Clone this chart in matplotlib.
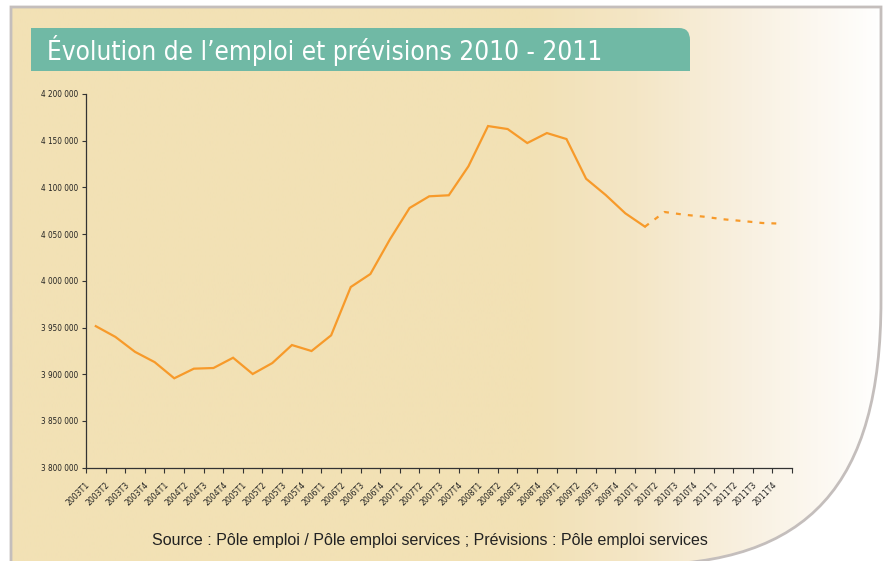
import matplotlib
matplotlib.use("Agg")
import matplotlib.pyplot as plt
import numpy as np
from matplotlib.path import Path
from matplotlib.patches import PathPatch
from matplotlib.colors import LinearSegmentedColormap
import matplotlib.transforms as mtransforms
from matplotlib.ticker import FuncFormatter, FixedLocator

# ---------------- data ----------------
categories = [f"{y}T{q}" for y in range(2003, 2012) for q in range(1, 5)]

realise = [3951500, 3940000, 3924000, 3913000, 3895700, 3906000, 3906700,
           3917700, 3900300, 3912000, 3931300, 3924900, 3941700, 3993400,
           4007300, 4044500, 4078000, 4090500, 4091600, 4122600, 4165700,
           4162500, 4147500, 4158200, 4151800, 4109300, 4091900, 4072300,
           4058000]  # 2003T1 .. 2010T1
prevision = [4058000, 4073700, 4070800, 4068700, 4065900, 4064000,
             4061900, 4061200]  # 2010T1 .. 2011T4

title = "Évolution de l’emploi et prévisions 2010 - 2011"
source = "Source : Pôle emploi / Pôle emploi services ; Prévisions : Pôle emploi services"
yticks = [3800000, 3850000, 3900000, 3950000, 4000000, 4050000, 4100000,
          4150000, 4200000]

# ---------------- figure ----------------
W, H = 887, 561
fig = plt.figure(figsize=(W / 100, H / 100), dpi=100)
fig.patch.set_facecolor("white")

narrow = ["DejaVu Sans"]
regular = ["Liberation Sans", "DejaVu Sans"]

# background axes in pixel coords
bg = fig.add_axes([0, 0, 1, 1])
bg.set_xlim(0, W)
bg.set_ylim(H, 0)
bg.axis("off")

verts = [(11, 620), (11, 7), (881, 7), (881, 300),
         (881, 485), (809, 565), (640, 565), (640, 620), (11, 620), (11, 620)]
codes = [Path.MOVETO, Path.LINETO, Path.LINETO, Path.LINETO,
         Path.CURVE4, Path.CURVE4, Path.CURVE4, Path.LINETO, Path.LINETO,
         Path.CLOSEPOLY]
panel_path = Path(verts, codes)

cmap = LinearSegmentedColormap.from_list(
    "bgrad",
    [(0.0, "#F2E1B5"), (0.60, "#F2E1B5"), (0.72, "#F4E6C6"),
     (0.85, "#F9F1E2"), (1.0, "#FFFFFF")])
grad = np.linspace(0, 1, 512).reshape(1, -1)
im = bg.imshow(grad, extent=[0, W, H, 0], aspect="auto", cmap=cmap,
               interpolation="bilinear", zorder=0)
clip = PathPatch(panel_path, transform=bg.transData, facecolor="none",
                 edgecolor="none")
bg.add_patch(clip)
im.set_clip_path(clip)
bg.add_patch(PathPatch(panel_path, facecolor="none", edgecolor="#C4BEBC",
                       lw=2.0, zorder=1))

# title bar
tv = [(31, 71), (31, 28), (679, 28), (690, 28), (690, 40), (690, 71), (31, 71)]
tc = [Path.MOVETO, Path.LINETO, Path.LINETO, Path.CURVE3, Path.CURVE3,
      Path.LINETO, Path.CLOSEPOLY]
bg.add_patch(PathPatch(Path(tv, tc), facecolor="#70B9A5", edgecolor="none",
                       zorder=2))
bg.text(47, 50, title, color="white", fontsize=18.8, family=narrow,
        stretch="condensed", ha="left", va="center", zorder=3)

bg.text(430, 541, source, color="#222222", fontsize=11.5, family=regular,
        ha="center", va="center", zorder=3)

# ---------------- chart axes ----------------
left, right, top, bottom = 86, 792, 94, 467.7
ax = fig.add_axes([left / W, (H - bottom) / H, (right - left) / W,
                   (bottom - top) / H])
ax.patch.set_alpha(0)

x_all = np.arange(len(categories))
line_color = "#F79A2A"
ax.plot(x_all[:len(realise)], realise, color=line_color, lw=1.6,
        solid_joinstyle="miter")
ax.plot(x_all[len(realise) - 1:len(realise) - 1 + len(prevision)], prevision,
        color=line_color, lw=1.6, dashes=(2.2, 3.2))

ax.set_xlim(-0.5, len(categories) - 0.5)
ax.set_ylim(yticks[0], yticks[-1])

for s in ["top", "right"]:
    ax.spines[s].set_visible(False)
for s in ["left", "bottom"]:
    ax.spines[s].set_color("#333333")
    ax.spines[s].set_linewidth(0.9)

ax.set_yticks(yticks)
ax.yaxis.set_major_formatter(
    FuncFormatter(lambda v, p: f"{int(v):,}".replace(",", " ")))
ax.tick_params(axis="y", length=3, width=0.8, color="#333333", pad=2.5,
               labelsize=5.9, labelcolor="#222222")
for lab in ax.get_yticklabels():
    lab.set_family(narrow)
    lab.set_stretch("condensed")

# x: boundary ticks (minor), labels at centres (major, no tick mark)
ax.xaxis.set_minor_locator(FixedLocator(np.arange(-0.5, len(categories), 1.0)))
ax.set_xticks(x_all)
ax.set_xticklabels(categories, rotation=45, ha="right", va="center",
                   rotation_mode="anchor")
ax.tick_params(axis="x", which="minor", length=3.5, width=0.8,
               color="#333333")
ax.tick_params(axis="x", which="major", length=0, pad=11.5,
               labelsize=6.2, labelcolor="#222222")
offset = mtransforms.ScaledTranslation(-7 / 100, 0, fig.dpi_scale_trans)
for lab in ax.get_xticklabels():
    lab.set_family(narrow)
    lab.set_stretch("condensed")
    lab.set_transform(lab.get_transform() + offset)

fig.savefig("out.png", dpi=100, facecolor=fig.get_facecolor())
